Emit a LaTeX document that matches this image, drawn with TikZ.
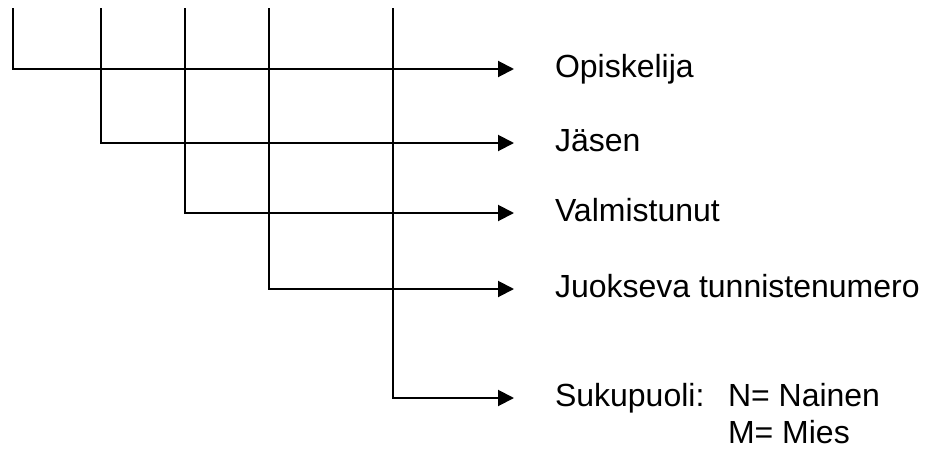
\documentclass[tikz,border=0pt]{standalone}
\usepackage{fontspec}
\setmainfont{Liberation Sans}
\usetikzlibrary{arrows.meta}

\begin{document}
\begin{tikzpicture}[x=0.5pt,y=-0.5pt,>={Triangle[length=8pt,width=8pt]},line width=1pt,
	etiketti/.style={anchor=west,inner sep=0pt,text height=12pt,text depth=4pt,font=\fontsize{16}{18.5}\selectfont}]
			\useasboundingbox (0,0) rectangle (927,450);
			%%%	Alkupisteet
			\coordinate (t1) at (13,8);
			\coordinate (t2) at (101,8);
			\coordinate (t3) at (185,8);
			\coordinate (t4) at (269,8);
			\coordinate (t5) at (393,8);
			%%%	Tekstit
			\node [etiketti] (opiskelija) at (554,69) {Opiskelija};
			\node [etiketti] (jasen) at (554,143) {Jäsen};
			\node [etiketti] (valmistunut) at (554,213) {Valmistunut};
			\node [etiketti] (juokseva) at (554,289) {Juokseva tunnistenumero};
			\node [etiketti] (sukupuoli) at (554,398) {Sukupuoli:};
			\node [etiketti] (nainen) at (727,398) {N= Nainen};
			\node [etiketti] (mies) at (727,435) {M= Mies};
			%%%	Viivat
			\foreach \t/\n in {t1/opiskelija,t2/jasen,t3/valmistunut,t4/juokseva,t5/sukupuoli}
			\draw [->, shorten >=20pt] (\t) |- (\n.west);
		\end{tikzpicture}
\end{document}
